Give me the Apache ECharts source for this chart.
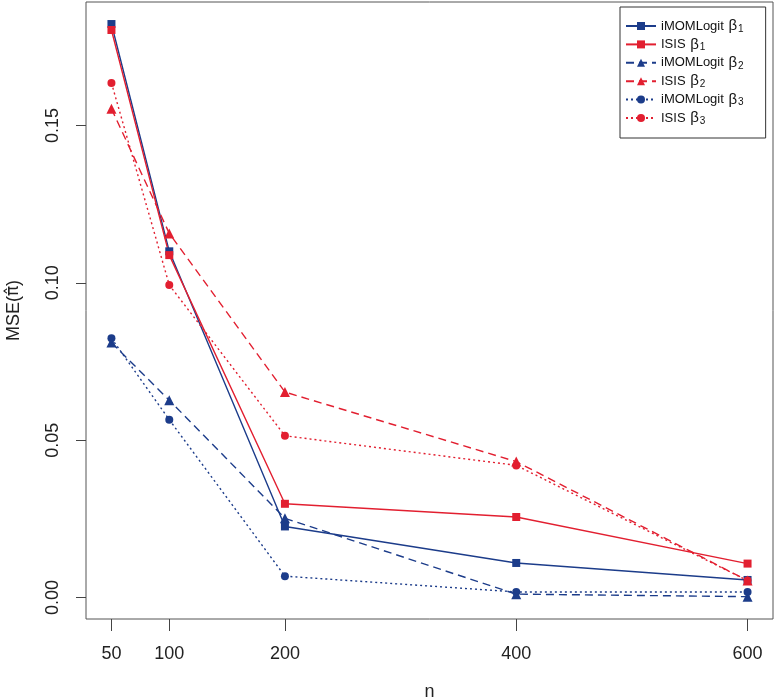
<!DOCTYPE html>
<html>
<head>
<meta charset="utf-8">
<script src="https://cdn.jsdelivr.net/npm/echarts@6/dist/echarts.min.js"></script>
<style>html,body{margin:0;padding:0;background:#fff;}#c{width:776px;height:698px;}</style>
</head>
<body>
<div id="c"></div>
<script>
const nValues = [50, 100, 200, 400, 600];
const xTicks = [50, 100, 200, 400, 600];
const yTicks = [0, 0.05, 0.10, 0.15];

const iMOM_b1 = [0.1822, 0.1100, 0.0226, 0.0110, 0.0056];
const ISIS_b1 = [0.1803, 0.1088, 0.0298, 0.0256, 0.0108];
const iMOM_b2 = [0.0810, 0.0627, 0.0252, 0.0011, 0.0003];
const ISIS_b2 = [0.1553, 0.1157, 0.0653, 0.0432, 0.0054];
const iMOM_b3 = [0.0824, 0.0565, 0.0068, 0.0018, 0.0018];
const ISIS_b3 = [0.1635, 0.0993, 0.0514, 0.0420, 0.0054];

const seriesNames = ['iMOMLogit {b|β}{s|1}', 'ISIS {b|β}{s|1}', 'iMOMLogit {b|β}{s|2}', 'ISIS {b|β}{s|2}', 'iMOMLogit {b|β}{s|3}', 'ISIS {b|β}{s|3}'];

const BLUE = '#1C3C8A';
const RED = '#E21F30';
const FONT = 'Liberation Sans, Arial, sans-serif';

function mk(name, data, color, type, symbol, size) {
  return {
    name: name,
    type: 'line',
    data: nValues.map((n, i) => [n, data[i]]),
    symbol: symbol,
    symbolSize: size,
    showSymbol: true,
    lineStyle: { color: color, width: 1.4, type: type },
    itemStyle: { color: color },
    emphasis: { disabled: true },
    animation: false
  };
}

const chart = echarts.init(document.getElementById('c'));
chart.setOption({
  animation: false,
  backgroundColor: '#ffffff',
  grid: { left: 86, right: 3, top: 2, bottom: 79, outerBoundsMode: 'none', containLabel: false,
    show: true, borderColor: '#555', borderWidth: 1, backgroundColor: 'transparent' },
  xAxis: {
    type: 'value', min: 28, max: 622,
    name: 'n', nameLocation: 'middle', nameGap: 64,
    nameTextStyle: { fontFamily: FONT, fontSize: 18, color: '#222' },
    axisLine: { show: false, onZero: false },
    splitLine: { show: false },
    axisTick: { show: true, length: 12, customValues: xTicks, lineStyle: { color: '#444' } },
    axisLabel: { customValues: xTicks, margin: 26, fontFamily: FONT, fontSize: 18, color: '#222' }
  },
  yAxis: {
    type: 'value', min: -0.0068, max: 0.1892,
    name: 'MSE({p|π\u0302})', nameLocation: 'middle', nameGap: 63,
    nameTextStyle: { fontFamily: FONT, fontSize: 18, color: '#222',
      rich: { p: { fontFamily: 'DejaVu Sans', fontSize: 17, color: '#222' } } },
    axisLine: { show: false, onZero: false },
    splitLine: { show: false },
    axisTick: { show: true, length: 10, customValues: yTicks, lineStyle: { color: '#444' } },
    axisLabel: { customValues: yTicks, rotate: 90, margin: 24, fontFamily: FONT, fontSize: 18, color: '#222',
      formatter: v => v.toFixed(2) }
  },
  legend: {
    orient: 'vertical', left: 620, top: 7,
    padding: [11, 22, 12, 5],
    itemWidth: 30, itemHeight: 10, itemGap: 2.4,
    borderColor: '#333', borderWidth: 1,
    backgroundColor: '#fff',
    data: seriesNames,
    textStyle: { fontFamily: FONT, fontSize: 13, color: '#111', lineHeight: 16,
      rich: {
        b: { fontFamily: FONT, fontSize: 15, color: '#111', lineHeight: 16, padding: [0, 1, 0, 1] },
        s: { fontFamily: FONT, fontSize: 10, color: '#111', verticalAlign: 'bottom', lineHeight: 16 }
      } }
  },
  series: [
    mk(seriesNames[0], iMOM_b1, BLUE, 'solid', 'rect', 8),
    mk(seriesNames[1], ISIS_b1, RED, 'solid', 'rect', 8),
    mk(seriesNames[2], iMOM_b2, BLUE, [8, 5], 'triangle', 10),
    mk(seriesNames[3], ISIS_b2, RED, [8, 5], 'triangle', 10),
    mk(seriesNames[4], iMOM_b3, BLUE, [2, 3], 'circle', 8),
    mk(seriesNames[5], ISIS_b3, RED, [2, 3], 'circle', 8)
  ]
});
</script>
</body>
</html>
